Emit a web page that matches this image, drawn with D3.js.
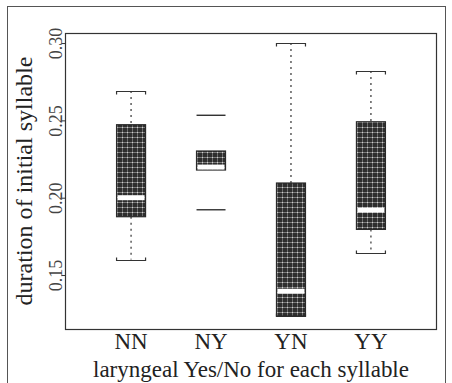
<!DOCTYPE html>
<html>
<head>
<meta charset="utf-8">
<script src="https://cdn.jsdelivr.net/npm/d3@7"></script>
<style>
  html, body { margin: 0; padding: 0; background: #fff; }
  svg { display: block; }
</style>
</head>
<body>
<svg id="chart" width="452" height="383"></svg>
<script>
// Groups: laryngeal Yes/No for first and second syllable
const categories = ["NN", "NY", "YN", "YY"];
// Five-number summaries of initial syllable duration (s)
const whiskerLow  = [0.160, null,  0.1235, 0.1643];
const boxLow      = [0.1877, 0.2179, 0.1235, 0.1795];
const medians     = [0.2000, 0.2198, 0.1395, 0.1920];
const boxHigh     = [0.2472, 0.2302, 0.2095, 0.2491];
const whiskerHigh = [0.2690, null,  0.3000, 0.2820];
// Separate points drawn as flat marks
const outliers = [[], [0.2533, 0.1922], [], []];
const yTicks = [0.15, 0.20, 0.25, 0.30];
const yTickLabels = ["0.15", "0.20", "0.25", "0.30"];

const SERIF = "'Liberation Serif', 'Times New Roman', 'DejaVu Serif', serif";

const svg = d3.select("#chart");
const plot = { left: 65, right: 436, top: 33, bottom: 329 };

const x = d3.scalePoint().domain(categories).range([plot.left, plot.right]).padding(0.82);
const y = d3.scaleLinear().domain([0.1151, 0.3065]).range([plot.bottom, plot.top]);

// Fill pattern for boxes: dark ground with a light grid
const defs = svg.append("defs");
const pat = defs.append("pattern")
  .attr("id", "hatch").attr("patternUnits", "userSpaceOnUse")
  .attr("width", 5).attr("height", 5);
pat.append("rect").attr("width", 5).attr("height", 5).attr("fill", "#2e2e2e");
pat.append("rect").attr("x", 0).attr("y", 2).attr("width", 5).attr("height", 1).attr("fill", "#7a7a7a");
pat.append("rect").attr("x", 2).attr("y", 0).attr("width", 1).attr("height", 5).attr("fill", "#6e6e6e");
pat.append("rect").attr("x", 2).attr("y", 2).attr("width", 1).attr("height", 1).attr("fill", "#cfcfcf");

// Outer frame
svg.append("rect").attr("x", 7.5).attr("y", 6.5).attr("width", 438).attr("height", 380)
  .attr("fill", "none").attr("stroke", "#555").attr("stroke-width", 1);

// Plot frame
svg.append("rect").attr("x", plot.left + 0.5).attr("y", plot.top + 0.5)
  .attr("width", plot.right - plot.left).attr("height", plot.bottom - plot.top)
  .attr("fill", "none").attr("stroke", "#333").attr("stroke-width", 1.2);

// Y axis with rotated labels
const yAxis = d3.axisLeft(y).tickValues(yTicks)
  .tickFormat((d, i) => yTickLabels[i]).tickSize(4);
const gy = svg.append("g").attr("transform", `translate(${plot.left + 0.5},0)`).call(yAxis);
gy.attr("font-family", null);
gy.select(".domain").remove();
gy.selectAll(".tick line").attr("stroke", "#333");
gy.selectAll(".tick text")
  .style("font-family", SERIF).style("font-size", "18px").attr("fill", "#444")
  .attr("text-anchor", "middle")
  .attr("transform", "rotate(-90)")
  .attr("x", 0).attr("y", -4).attr("dy", 0);

// X axis labels
const xAxis = d3.axisBottom(x).tickSize(0).tickPadding(4);
const gx = svg.append("g").attr("transform", `translate(0,${plot.bottom})`).call(xAxis);
gx.attr("font-family", null);
gx.select(".domain").remove();
gx.selectAll(".tick text").style("font-family", SERIF).style("font-size", "23px").attr("fill", "#222");

const half = 14.5;
const groups = svg.append("g").selectAll("g").data(categories).join("g");

groups.each(function (c, i) {
  const g = d3.select(this);
  const cx = x(c) + 0.5;
  // Whiskers (dotted) and staples
  if (whiskerHigh[i] !== null) {
    g.append("line").attr("x1", cx).attr("x2", cx)
      .attr("y1", y(whiskerHigh[i])).attr("y2", y(boxHigh[i]))
      .attr("stroke", "#333").attr("stroke-width", 1.2).attr("stroke-dasharray", "2,4");
    const yh = Math.round(y(whiskerHigh[i])) + 0.5;
    g.append("path")
      .attr("d", `M${cx - half},${yh + 3}V${yh}H${cx + half}V${yh + 3}`)
      .attr("fill", "none").attr("stroke", "#333").attr("stroke-width", 1.2);
  }
  if (whiskerLow[i] !== null) {
    g.append("line").attr("x1", cx).attr("x2", cx)
      .attr("y1", y(boxLow[i])).attr("y2", y(whiskerLow[i]))
      .attr("stroke", "#333").attr("stroke-width", 1.2).attr("stroke-dasharray", "2,4");
    const yl = Math.round(y(whiskerLow[i])) + 0.5;
    g.append("path")
      .attr("d", `M${cx - half},${yl - 3}V${yl}H${cx + half}V${yl - 3}`)
      .attr("fill", "none").attr("stroke", "#333").attr("stroke-width", 1.2);
  }
  // Box
  g.append("rect")
    .attr("x", cx - half).attr("width", 2 * half)
    .attr("y", y(boxHigh[i])).attr("height", y(boxLow[i]) - y(boxHigh[i]))
    .attr("fill", "url(#hatch)").attr("stroke", "#2a2a2a").attr("stroke-width", 1.2);
  // Median as a white band
  g.append("rect")
    .attr("x", cx - half + 1).attr("width", 2 * half - 2)
    .attr("y", y(medians[i]) - 2.5).attr("height", 5)
    .attr("fill", "#fff");
  // Flat marks for separate points
  outliers[i].forEach(v => {
    g.append("line").attr("x1", cx - half).attr("x2", cx + half)
      .attr("y1", y(v)).attr("y2", y(v))
      .attr("stroke", "#333").attr("stroke-width", 1.4);
  });
});

// Size a title so that it spans the given length
function fitText(sel, target) {
  const len = sel.node().getComputedTextLength();
  const fs = parseFloat(sel.style("font-size"));
  if (len > 0) sel.style("font-size", (fs * target / len).toFixed(2) + "px");
}

// Axis titles
const yTitle = svg.append("text")
  .attr("transform", `translate(32,181) rotate(-90)`)
  .attr("text-anchor", "middle").style("font-family", SERIF).style("font-size", "21px")
  .attr("fill", "#222")
  .text("duration of initial syllable");
fitText(yTitle, 249);
const xTitle = svg.append("text")
  .attr("x", 251).attr("y", 377)
  .attr("text-anchor", "middle").style("font-family", SERIF).style("font-size", "21px")
  .attr("fill", "#222")
  .text("laryngeal Yes/No for each syllable");
fitText(xTitle, 316);
</script>
</body>
</html>
